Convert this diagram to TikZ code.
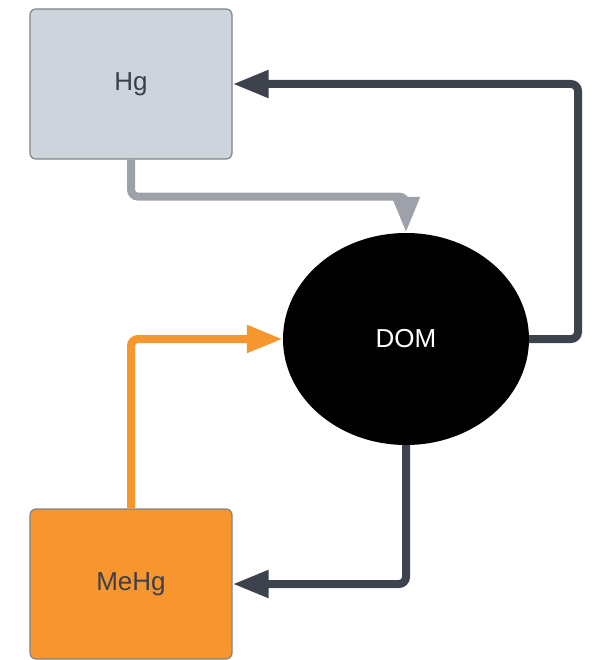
\documentclass[tikz,border=0pt]{standalone}
\usepackage{fontspec}
\setmainfont{Liberation Sans}
\usetikzlibrary{shapes.geometric,arrows.meta}

\definecolor{hgfill}{HTML}{CED4DC}
\definecolor{mefill}{HTML}{F7952F}
\definecolor{edgegray}{HTML}{7F848B}
\definecolor{darkflow}{HTML}{3D434C}
\definecolor{lightflow}{HTML}{9DA2AA}
\definecolor{labelgray}{HTML}{3B4048}

\begin{document}
\begin{tikzpicture}[x=1pt,y=-1pt,font=\fontsize{26}{30}\selectfont,
    box/.style={draw=edgegray, line width=1.2pt, rounded corners=6pt, rectangle,
        minimum width=202pt, minimum height=150pt, text=labelgray},
    blob/.style={ellipse, fill=black, inner sep=0pt, minimum width=246pt,
        minimum height=212pt, text=white},
    flow/.style={line width=8pt, rounded corners=7pt,
        -{Triangle[length=36pt,width=26pt]}}]

    \useasboundingbox (0,0) rectangle (595,660);

    \node[box, fill=hgfill] (hg) at (131,84) {Hg};

    \node[box, fill=mefill] (mehg) at (131,584) {MeHg};

    \node[blob] (dom) at (406,339) {DOM};

    %------------------------------------------------

    \coordinate (rtop) at (578,84);

    \draw[flow, lightflow] (hg.south) -- ++(0,37) -| (dom.north);
    \draw[flow, darkflow] (dom.east) -| (rtop) -- (hg.east);
    \draw[flow, darkflow] (dom.south) |- (mehg.east);
    \draw[flow, mefill] (mehg.north) |- (dom.west);
\end{tikzpicture}
\end{document}
